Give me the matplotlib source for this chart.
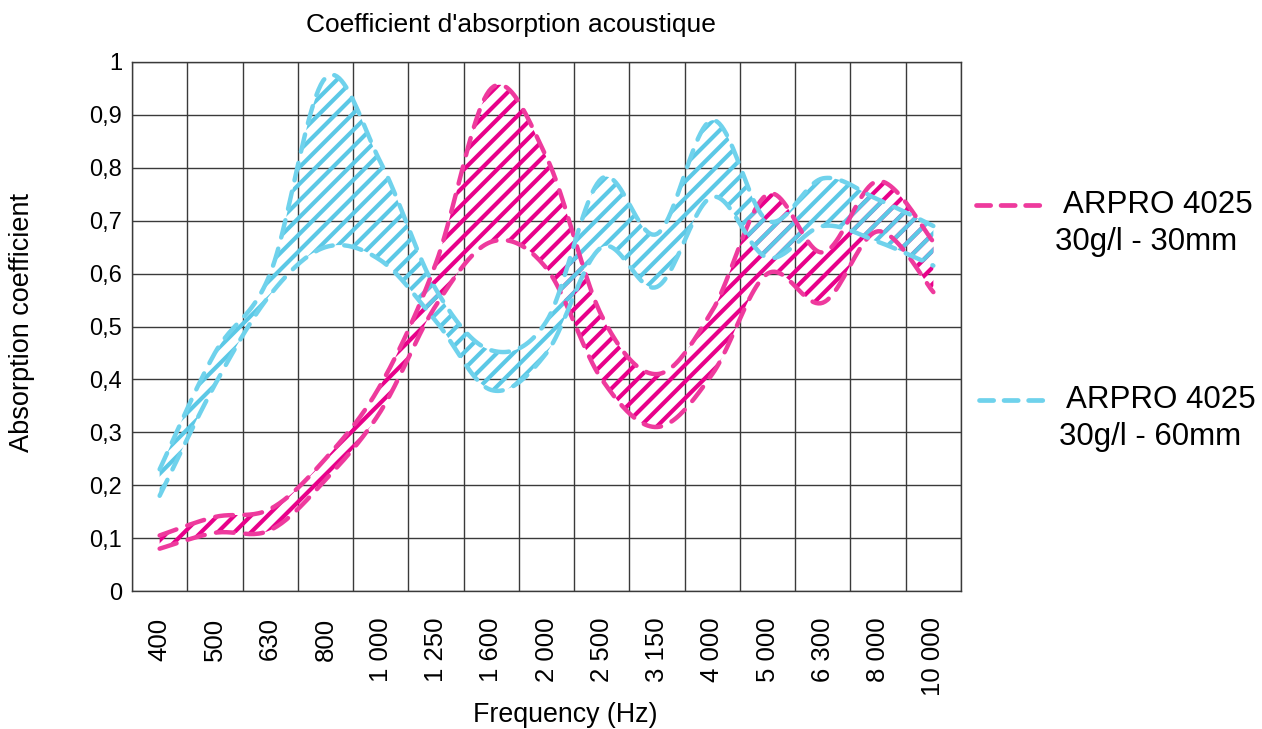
import numpy as np
import matplotlib
matplotlib.use("Agg")
import matplotlib.pyplot as plt
from matplotlib.lines import Line2D

plt.rcParams["font.family"] = ["Liberation Sans", "DejaVu Sans"]
plt.rcParams["hatch.linewidth"] = 3.0

# third-octave bands (Hz) and absorption curves
freq_labels = ["400", "500", "630", "800", "1 000", "1 250", "1 600", "2 000",
               "2 500", "3 150", "4 000", "5 000", "6 300", "8 000", "10 000"]
mm30_hi = [0.105, 0.14, 0.155, 0.25, 0.39, 0.62, 0.95, 0.82, 0.52, 0.41, 0.53, 0.75, 0.64, 0.775, 0.66]
mm30_lo = [0.08, 0.11, 0.115, 0.21, 0.34, 0.54, 0.66, 0.61, 0.40, 0.31, 0.41, 0.60, 0.545, 0.68, 0.565]
mm60_hi = [0.23, 0.45, 0.60, 0.97, 0.81, 0.57, 0.455, 0.51, 0.78, 0.675, 0.89, 0.70, 0.78, 0.74, 0.69]
mm60_lo = [0.18, 0.39, 0.56, 0.65, 0.625, 0.51, 0.38, 0.45, 0.65, 0.575, 0.745, 0.63, 0.69, 0.66, 0.615]
series_labels = ["ARPRO 4025\n30g/l - 30mm", "ARPRO 4025\n30g/l - 60mm"]

PINK_LINE, PINK_HATCH = "#EE3A9D", "#E8008A"
CYAN_LINE, CYAN_HATCH = "#6FD2EC", "#5BC8E6"


def smooth(vals, n=24):
    # Catmull-Rom through the points, like a spreadsheet "smoothed line"
    pts = np.column_stack([np.arange(len(vals)), vals]).astype(float)
    p = np.vstack([pts[0], pts, pts[-1]])
    t = np.linspace(0, 1, n, endpoint=False)[:, None]
    segs = []
    for i in range(len(pts) - 1):
        p0, p1, p2, p3 = p[i], p[i + 1], p[i + 2], p[i + 3]
        segs.append(0.5 * (2 * p1 + (-p0 + p2) * t + (2 * p0 - 5 * p1 + 4 * p2 - p3) * t ** 2
                           + (-p0 + 3 * p1 - 3 * p2 + p3) * t ** 3))
    segs.append(pts[-1:])
    c = np.vstack(segs)
    return c[:, 0], c[:, 1]


fig = plt.figure(figsize=(12.62, 7.29), dpi=100)
ax = fig.add_axes([132 / 1262, 1 - 591 / 729, (961 - 132) / 1262, (591 - 62) / 729])

n = len(freq_labels)
ax.set_xlim(-0.5, n - 0.5)
ax.set_ylim(0, 1)
ax.set_xticks(np.arange(n))
ax.set_xticklabels(freq_labels, rotation=90, va="top", ha="center")
ax.set_xticks(np.arange(n + 1) - 0.5, minor=True)
ax.set_yticks(np.arange(0, 1.01, 0.1))
ax.set_yticklabels(["0"] + [f"0,{k}" for k in range(1, 10)] + ["1"])
ax.tick_params(axis="both", which="both", length=0)
ax.tick_params(axis="x", pad=19, labelsize=18.5)
ax.tick_params(axis="y", pad=7, labelsize=17)
ax.grid(which="minor", axis="x", color="#3a3a3a", lw=1)
ax.grid(which="major", axis="y", color="#3a3a3a", lw=1)
ax.set_axisbelow(True)
for s in ax.spines.values():
    s.set_color("#3a3a3a"); s.set_linewidth(1)

for hi, lo, lc, hc in [(mm30_hi, mm30_lo, PINK_LINE, PINK_HATCH),
                       (mm60_hi, mm60_lo, CYAN_LINE, CYAN_HATCH)]:
    xh, yh = smooth(hi)
    xl, yl = smooth(lo)
    ax.fill(np.concatenate([xh, xl[::-1]]), np.concatenate([yh, yl[::-1]]),
            facecolor="none", edgecolor=hc, hatch="//", linewidth=0, zorder=2)
    for xx, yy in [(xh, yh), (xl, yl)]:
        ax.plot(xx, yy, color=lc, lw=3.2, dashes=(4.0, 2.6), dash_capstyle="round", zorder=3)

fig.text(511 / 1262, 1 - 25 / 729, "Coefficient d'absorption acoustique", ha="center", va="center", fontsize=19)
fig.text(565 / 1262, 1 - 715 / 729, "Frequency (Hz)", ha="center", va="center", fontsize=19.3)
fig.text(22 / 1262, 1 - 322 / 729, "Absorption coefficient", ha="center", va="center", rotation=90, fontsize=19.5)

# legend drawn by hand on the right
for (x0, x1, yl, tx1, tx2), lc, lab in zip([(976, 1048, 205, 1158, 1146), (979, 1050, 400, 1161, 1150)],
                                           [PINK_LINE, CYAN_LINE], series_labels):
    fig.add_artist(Line2D([x0 / 1262, x1 / 1262], [1 - yl / 729] * 2, transform=fig.transFigure,
                          color=lc, lw=3.4, dashes=(3.0, 2.2), dash_capstyle="round"))
    l1, l2 = lab.split("\n")
    fig.text(tx1 / 1262, 1 - yl / 729, l1, ha="center", va="center", fontsize=22.5)
    fig.text(tx2 / 1262, 1 - (yl + 37) / 729, l2, ha="center", va="center", fontsize=22.5)

fig.savefig("out.png", dpi=100)
